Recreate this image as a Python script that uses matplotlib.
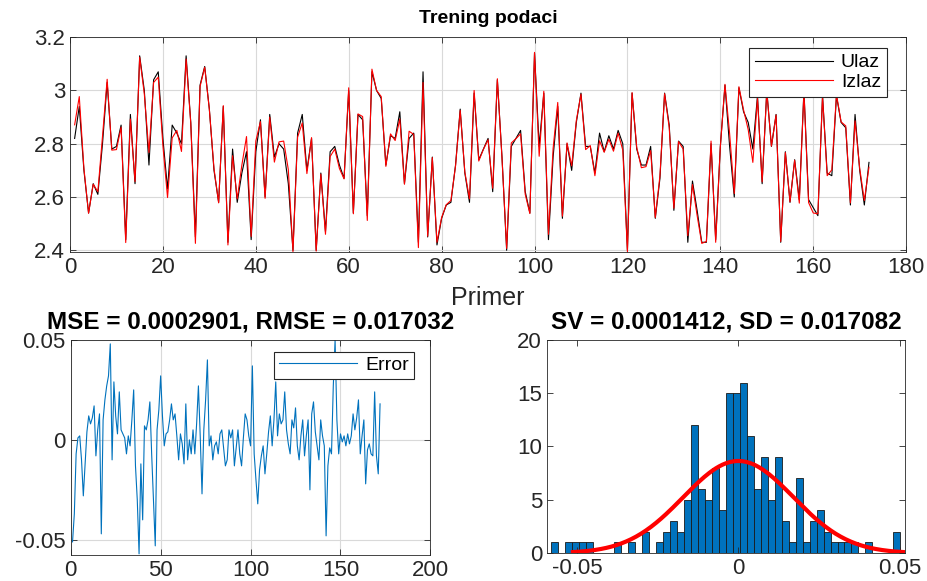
import numpy as np
import matplotlib
matplotlib.use("Agg")
import matplotlib.pyplot as plt
from matplotlib.ticker import FuncFormatter

plt.rcParams['font.family'] = ['Liberation Sans', 'DejaVu Sans']

# ulazni signal (Ulaz), uzorci 1..172
ulaz = [2.82, 2.94, 2.70, 2.54, 2.65, 2.61, 2.80, 3.03, 2.78, 2.79,
        2.87, 2.44, 2.91, 2.65, 3.13, 3.00, 2.72, 3.04, 3.07, 2.82,
        2.63, 2.87, 2.84, 2.80, 3.13, 2.88, 2.45, 3.02, 3.09, 2.93,
        2.70, 2.58, 2.94, 2.43, 2.78, 2.58, 2.69, 2.77, 2.44, 2.77,
        2.89, 2.60, 2.91, 2.75, 2.80, 2.78, 2.65, 2.40, 2.84, 2.91,
        2.70, 2.82, 2.40, 2.69, 2.47, 2.77, 2.79, 2.72, 2.67, 3.00,
        2.54, 2.91, 2.89, 2.53, 3.07, 3.00, 2.97, 2.72, 2.83, 2.82,
        2.92, 2.65, 2.82, 2.84, 2.43, 3.07, 2.45, 2.75, 2.42, 2.52,
        2.57, 2.58, 2.72, 2.93, 2.69, 2.58, 2.99, 2.74, 2.78, 2.82,
        2.62, 3.04, 2.75, 2.40, 2.79, 2.82, 2.85, 2.62, 2.54, 3.14,
        2.79, 2.99, 2.44, 2.75, 2.94, 2.52, 2.80, 2.70, 2.88, 2.99,
        2.79, 2.79, 2.69, 2.84, 2.77, 2.83, 2.78, 2.85, 2.80, 2.40,
        2.99, 2.78, 2.72, 2.72, 2.79, 2.52, 2.67, 2.99, 2.87, 2.55,
        2.81, 2.79, 2.43, 2.66, 2.55, 2.43, 2.43, 2.80, 2.44, 2.79,
        3.02, 2.79, 2.60, 3.01, 2.92, 2.88, 2.78, 2.98, 2.65, 3.00,
        2.79, 2.91, 2.43, 2.77, 2.58, 2.74, 2.59, 3.00, 2.59, 2.56,
        2.53, 2.98, 2.69, 2.68, 2.98, 2.88, 2.86, 2.57, 2.91, 2.70,
        2.57, 2.73]

# greska (Error), uzorci 1..172
greska = [-0.051, -0.037, -0.007, 0.001, 0.002, -0.010, -0.028, -0.012, 0.004, 0.012,
          0.008, 0.011, 0.017, -0.008, 0.005, 0.013, -0.047, 0.010, 0.020, 0.027,
          0.032, 0.048, -0.010, 0.029, 0.012, 0.003, 0.024, 0.005, 0.003, 0.001,
          -0.007, 0.002, -0.003, 0.010, 0.025, -0.013, -0.030, -0.057, -0.012, -0.040,
          0.007, 0.005, 0.010, 0.019, -0.007, -0.030, -0.053, 0.005, 0.015, 0.032,
          0.012, -0.003, 0.003, 0.004, 0.010, 0.018, 0.010, 0.013, 0.002, -0.010,
          0.003, -0.002, -0.012, 0.018, -0.010, 0.000, -0.007, 0.005, -0.007, 0.008,
          0.027, 0.002, -0.027, 0.005, 0.020, 0.040, -0.003, 0.002, -0.010, -0.003,
          -0.001, -0.007, 0.003, 0.005, -0.004, -0.013, -0.010, 0.005, 0.001, 0.005,
          -0.013, -0.004, 0.005, -0.007, -0.013, 0.001, 0.013, 0.010, 0.002, -0.003,
          0.037, -0.007, -0.020, -0.032, -0.015, -0.008, -0.003, -0.017, -0.007, 0.004,
          0.012, -0.003, 0.010, 0.029, 0.002, 0.013, 0.008, 0.010, 0.024, 0.005,
          -0.002, -0.007, 0.010, 0.006, 0.016, -0.003, -0.010, 0.002, 0.010, -0.008,
          0.002, 0.010, -0.025, 0.013, 0.019, 0.004, -0.003, -0.010, 0.010, 0.002,
          -0.003, -0.048, -0.013, -0.004, -0.007, 0.027, 0.050, 0.010, -0.007, 0.003,
          -0.001, 0.002, -0.003, 0.003, -0.002, 0.002, 0.013, 0.005, 0.011, 0.020,
          -0.007, 0.002, 0.010, -0.022, -0.005, -0.002, -0.007, -0.008, 0.024, -0.008,
          -0.017, 0.018]

# izlaz = ulaz - greska
izlaz = [u - e for u, e in zip(ulaz, greska)]

# histogram greske, 50 binova
hist_counts = [1, 0, 1, 1, 1, 1, 0, 0, 0, 1,
               0, 1, 0, 2, 0, 1, 2, 3, 2, 5,
               12, 6, 5, 8, 4, 15, 15, 16, 11, 6,
               9, 5, 9, 3, 1, 7, 1, 3, 4, 2,
               1, 1, 1, 1, 0, 1, 0, 0, 0, 2]
hist_lo, hist_hi = -0.0580, 0.0502

mse_txt = "MSE = 0.0002901, RMSE = 0.017032"
sv_txt = "SV = 0.0001412, SD = 0.017082"
sd = 0.017082
mu = 0.0

uzorci = np.arange(1, len(ulaz) + 1)

fig = plt.figure(figsize=(9.27, 5.81), dpi=100)
ax1 = fig.add_axes([0.0755, 0.566, 0.902, 0.370])
ax2 = fig.add_axes([0.0763, 0.045, 0.388, 0.370])
ax3 = fig.add_axes([0.590, 0.048, 0.3865, 0.367])

fmt = FuncFormatter(lambda v, p: "%g" % round(v, 4))
axc = '#262626'


def style(ax, grid=True):
    ax.tick_params(direction='in', length=4, labelsize=16, colors=axc,
                   top=True, right=True, width=0.6)
    for s in ax.spines.values():
        s.set_color(axc)
        s.set_linewidth(0.6)
    if grid:
        ax.grid(True, color='#d9d9d9', linewidth=0.8)
        ax.set_axisbelow(True)
    ax.xaxis.set_major_formatter(fmt)
    ax.yaxis.set_major_formatter(fmt)


# gornji graf - trening podaci
ax1.plot(uzorci, ulaz, color='black', linewidth=0.8, label='Ulaz')
ax1.plot(uzorci, izlaz, color='red', linewidth=0.8, label='Izlaz')
ax1.set_xlim(0, 180)
ax1.set_ylim(2.393, 3.2)
ax1.set_xticks(np.arange(0, 181, 20))
ax1.set_yticks([2.4, 2.6, 2.8, 3.0, 3.2])
style(ax1)
ax1.set_title("Trening podaci", fontsize=14, fontweight='bold', pad=10)
ax1.set_xlabel("Primer", fontsize=18, labelpad=6, color=axc)
leg1 = ax1.legend(loc='upper right', bbox_to_anchor=(0.977, 0.95), fontsize=14,
                  handlelength=4, fancybox=False, framealpha=1, borderpad=0.3,
                  labelspacing=0.1, handletextpad=0.4, borderaxespad=0)
leg1.get_frame().set_edgecolor(axc)
leg1.get_frame().set_linewidth(0.8)

# donji levi - greska
ax2.plot(uzorci, greska, color='#0072BD', linewidth=0.8, label='Error')
ax2.set_xlim(0, 200)
ax2.set_ylim(-0.0575, 0.05)
ax2.set_xticks([0, 50, 100, 150, 200])
ax2.set_yticks([-0.05, 0, 0.05])
style(ax2)
ax2.set_title(mse_txt, fontsize=17.5, fontweight='bold', pad=8)
leg2 = ax2.legend(loc='upper right', bbox_to_anchor=(0.953, 0.945), fontsize=14,
                  handlelength=4, fancybox=False, framealpha=1, borderpad=0.25,
                  handletextpad=0.4, borderaxespad=0)
leg2.get_frame().set_edgecolor(axc)
leg2.get_frame().set_linewidth(0.8)

# donji desni - histogram sa normalnom raspodelom
edges = np.linspace(hist_lo, hist_hi, len(hist_counts) + 1)
centers = (edges[:-1] + edges[1:]) / 2
width = edges[1] - edges[0]
ax3.bar(centers, hist_counts, width=width, color='#0072BD', edgecolor='#1a1a1a',
        linewidth=0.6)
n = sum(hist_counts)
xd = np.linspace(mu - 3 * sd, mu + 3 * sd, 200)
yd = n * width * np.exp(-0.5 * ((xd - mu) / sd) ** 2) / (sd * np.sqrt(2 * np.pi))
ax3.plot(xd, yd, color='red', linewidth=3)
ax3.set_xlim(-0.0593, 0.0517)
ax3.set_ylim(0, 20)
ax3.set_xticks([-0.05, 0, 0.05])
ax3.set_yticks([0, 5, 10, 15, 20])
style(ax3, grid=False)
ax3.set_title(sv_txt, fontsize=17.5, fontweight='bold', pad=8)

fig.savefig("out.png", dpi=100)
